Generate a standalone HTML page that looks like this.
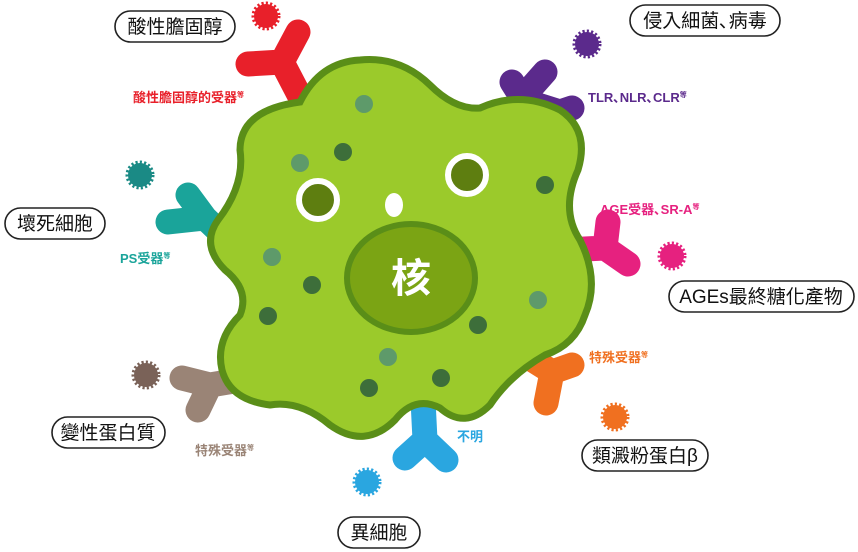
<!DOCTYPE html>
<html><head><meta charset="utf-8"><style>
body{margin:0;background:#fff;}
svg{display:block;font-family:"Liberation Sans","Noto Sans CJK TC",sans-serif;}
.pill{fill:#fff;stroke:#222;stroke-width:1.6}
.pt{font-size:19px;fill:#111;}
.lb{font-size:13px;font-weight:bold;}
</style></head><body>
<svg width="858" height="552" viewBox="0 0 858 552">
<g fill="none" stroke-linecap="round" stroke-linejoin="round" stroke-width="25">
<path d="M308 112 L282 62 L248 64 M282 62 L298 32" stroke="#e8202a"/>
<path d="M515 135 L522 98 L545 72 M522 98 L512 82 M522 100 L560 112 L572 108" stroke="#5b2a8c"/>
<path d="M228 240 L205 218 L168 222 M205 218 L188 195" stroke="#1aa49a"/>
<path d="M565 250 L605 248 L608 222 M605 248 L628 264" stroke="#e6217f"/>
<path d="M240 380 L210 385 L182 378 M210 385 L198 410" stroke="#9a8476"/>
<path d="M525 355 L552 372 L572 365 M552 372 L546 403" stroke="#f07020"/>
<path d="M423 400 L425 440 L405 458 M425 440 L446 460" stroke="#2aa6e0"/>
</g>
<path d="M300 102 Q320 62 360 60 Q400 56 430 85 Q455 110 480 108 Q520 90 560 110 Q590 130 578 170 Q560 210 580 240 Q600 280 585 315 Q575 345 545 355 Q510 375 490 405 Q465 430 440 408 Q415 395 395 420 Q365 450 330 425 Q300 400 270 405 Q230 400 222 370 Q215 340 240 315 Q250 290 225 270 Q200 245 218 220 Q245 185 240 150 Q240 110 300 102 Z" fill="#9bca2b" stroke="#5a8e18" stroke-width="7"/>
<g fill="#5e9a6a"><circle cx="300" cy="163" r="9"/><circle cx="272" cy="257" r="9"/><circle cx="388" cy="357" r="9"/><circle cx="538" cy="300" r="9"/><circle cx="364" cy="104" r="9"/></g>
<g fill="#3d6e3a"><circle cx="343" cy="152" r="9"/><circle cx="312" cy="285" r="9"/><circle cx="268" cy="316" r="9"/><circle cx="478" cy="325" r="9"/><circle cx="369" cy="388" r="9"/><circle cx="441" cy="378" r="9"/><circle cx="545" cy="185" r="9"/></g>
<ellipse cx="411" cy="278" rx="64" ry="54" fill="#7ba414" stroke="#5a8e18" stroke-width="6"/>
<text x="411" y="292" font-size="40" fill="#fff" text-anchor="middle" font-weight="bold">核</text>
<circle cx="318" cy="200" r="19" fill="#5e7e10" stroke="#fff" stroke-width="6"/>
<circle cx="467" cy="175" r="19" fill="#5e7e10" stroke="#fff" stroke-width="6"/>
<ellipse cx="394" cy="205" rx="9" ry="12" fill="#fff"/>
<g stroke-width="5" stroke-dasharray="2 2">
<circle cx="266" cy="16" r="12" fill="#e8202a" stroke="#e8202a"/>
<circle cx="587" cy="44" r="12" fill="#5b2a8c" stroke="#5b2a8c"/>
<circle cx="140" cy="175" r="12" fill="#1a8a85" stroke="#1a8a85"/>
<circle cx="672" cy="256" r="12" fill="#e6217f" stroke="#e6217f"/>
<circle cx="146" cy="375" r="12" fill="#7a6258" stroke="#7a6258"/>
<circle cx="615" cy="417" r="12" fill="#f07020" stroke="#f07020"/>
<circle cx="367" cy="482" r="12" fill="#2aa6e0" stroke="#2aa6e0"/>
</g>
<g class="lb">
<text x="133" y="102" fill="#e8202a">酸性膽固醇的受器<tspan font-size="7" dy="-5">等</tspan></text>
<text x="588" y="102" fill="#5b2a8c">TLR､NLR､CLR<tspan font-size="7" dy="-5">等</tspan></text>
<text x="120" y="263" fill="#1aa49a">PS受器<tspan font-size="7" dy="-5">等</tspan></text>
<text x="600" y="214" fill="#e6217f">AGE受器､SR-A<tspan font-size="7" dy="-5">等</tspan></text>
<text x="589" y="362" fill="#f07020">特殊受器<tspan font-size="7" dy="-5">等</tspan></text>
<text x="195" y="455" fill="#9a8476">特殊受器<tspan font-size="7" dy="-5">等</tspan></text>
<text x="457" y="441" fill="#2aa6e0">不明</text>
</g>
<rect class="pill" x="115" y="11" width="120" height="31" rx="15.5"/><text class="pt" x="175" y="33" text-anchor="middle">酸性膽固醇</text>
<rect class="pill" x="630" y="5" width="150" height="31" rx="15.5"/><text class="pt" x="705" y="27" text-anchor="middle">侵入細菌､病毒</text>
<rect class="pill" x="5" y="208" width="100" height="31" rx="15.5"/><text class="pt" x="55" y="230" text-anchor="middle">壞死細胞</text>
<rect class="pill" x="669" y="281" width="185" height="31" rx="15.5"/><text class="pt" x="761" y="303" text-anchor="middle">AGEs最終糖化產物</text>
<rect class="pill" x="52" y="417" width="113" height="31" rx="15.5"/><text class="pt" x="108" y="439" text-anchor="middle">變性蛋白質</text>
<rect class="pill" x="582" y="440" width="126" height="31" rx="15.5"/><text class="pt" x="645" y="462" text-anchor="middle">類澱粉蛋白β</text>
<rect class="pill" x="338" y="517" width="82" height="31" rx="15.5"/><text class="pt" x="379" y="539" text-anchor="middle">異細胞</text>
</svg>
</body></html>
